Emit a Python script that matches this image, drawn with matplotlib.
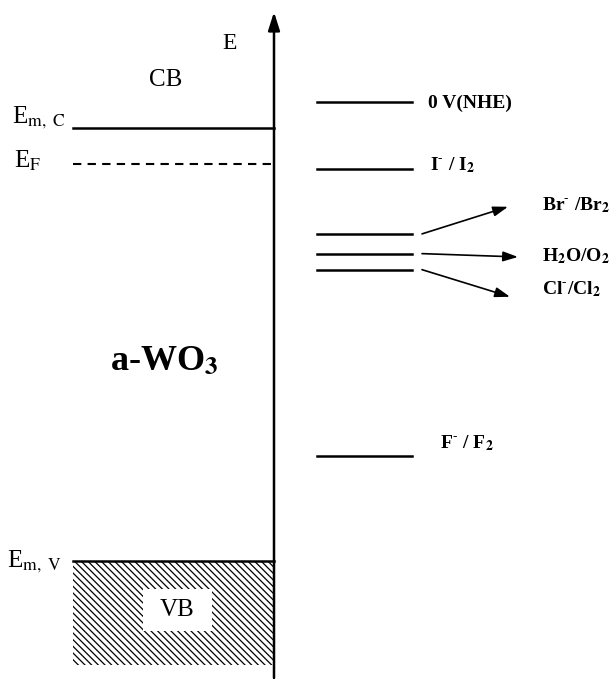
import matplotlib.pyplot as plt
from matplotlib.patches import Rectangle

plt.rcParams['font.family'] = ['Liberation Serif', 'DejaVu Serif']
plt.rcParams['mathtext.fontset'] = 'stix'
plt.rcParams['hatch.linewidth'] = 0.9

# redox couples, standard potential in V vs NHE
redox_names = ['0 V(NHE)', 'I$^{\\text{-}}$ / I$_\\mathbf{2}$', 'Br$^{\\text{-}}$ /Br$_\\mathbf{2}$',
               'H$_\\mathbf{2}$O/O$_\\mathbf{2}$', 'Cl$^{\\text{-}}$/Cl$_\\mathbf{2}$', 'F$^{\\text{-}}$ / F$_\\mathbf{2}$']
redox_pot = [0.0, 0.54, 1.07, 1.23, 1.36, 2.87]

# a-WO3 band positions (V vs NHE)
e_mc = 0.21       # conduction band edge E_m,C
e_f = 0.50        # Fermi level
e_mv = 3.72       # valence band edge E_m,V
vb_bottom = 4.57

fig = plt.figure(figsize=(6.16, 6.79), dpi=100)
ax = fig.add_axes([0, 0, 1, 1])
ax.set_xlim(0, 616)
ax.set_ylim(4.680, -0.827)
ax.axis('off')

axis_x = 274
# energy axis with arrow head on top
ax.annotate('', xy=(axis_x, -0.73), xytext=(axis_x, 4.672),
            arrowprops=dict(arrowstyle='-|>,head_length=1.1,head_width=0.35', color='black', lw=1.8,
                            shrinkA=0, shrinkB=0))
ax.text(230, -0.478, 'E', fontsize=17, ha='center', va='center')

# semiconductor side
ax.plot([73, axis_x], [e_mc, e_mc], color='black', lw=1.8)
ax.plot([73, axis_x], [e_f, e_f], color='black', lw=1.5, ls=(0, (4, 3)))
ax.text(166, -0.175, 'CB', fontsize=18, ha='center', va='center')
ax.text(12, 0.17, 'E$_{\\mathrm{m,\\ C}}$', fontsize=18, ha='left', va='baseline')
ax.text(14, 0.535, 'E$_{\\mathrm{F}}$', fontsize=18, ha='left', va='baseline')
ax.text(164, 2.11, 'a-WO$_\\mathbf{3}$', fontsize=26, fontweight='bold', ha='center', va='center')
ax.text(7, 3.77, 'E$_{\\mathrm{m,\\ V}}$', fontsize=18, ha='left', va='baseline')

vb = Rectangle((73, e_mv), axis_x - 73, vb_bottom - e_mv, facecolor='white',
               edgecolor='black', hatch='\\\\\\\\\\', lw=0)
ax.add_patch(vb)
ax.plot([73, axis_x], [e_mv, e_mv], color='black', lw=1.8)
ax.add_patch(Rectangle((143, 3.95), 69, 0.34, facecolor='white', edgecolor='none', zorder=3))
ax.text(177, 4.12, 'VB', fontsize=18, ha='center', va='center', zorder=4)

# redox levels
for v in redox_pot:
    ax.plot([317, 412], [v, v], color='black', lw=1.8)

label_x = [428, 430, 542, 542, 542, 440]
label_y = [0.01, 0.51, 0.84, 1.25, 1.52, 2.77]
for name, lx, ly in zip(redox_names, label_x, label_y):
    ax.text(lx, ly, name, fontsize=14, fontweight='bold', ha='left', va='center')

# arrows from the crowded levels to their labels
arrow_tips = [None, None, (508, 0.85), (518, 1.257), (510, 1.58), None]
for v, tip in zip(redox_pot, arrow_tips):
    if tip is None:
        continue
    ax.annotate('', xy=tip, xytext=(422, v),
                arrowprops=dict(arrowstyle='-|>,head_length=0.9,head_width=0.3', color='black', lw=1.2,
                                shrinkA=0, shrinkB=0))

plt.savefig('out.png', dpi=100)
